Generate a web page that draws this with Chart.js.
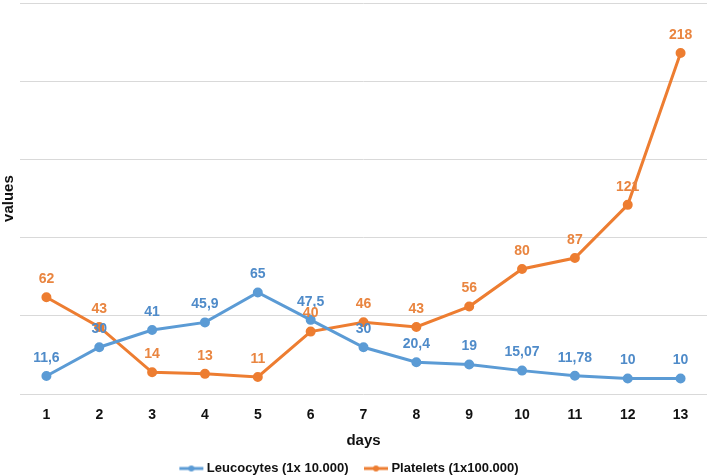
<!DOCTYPE html>
<html>
<head>
<meta charset="utf-8">
<script src="https://cdn.jsdelivr.net/npm/chart.js@4/dist/chart.umd.min.js"></script>
<style>
  html, body { margin: 0; padding: 0; background: #fff; }
  #wrap { width: 709px; height: 476px; }
</style>
</head>
<body>
<div id="wrap"><canvas id="js-chart"></canvas></div>
<script>
  const days = ['1', '2', '3', '4', '5', '6', '7', '8', '9', '10', '11', '12', '13'];
  const leucocytes = [11.6, 30, 41, 45.9, 65, 47.5, 30, 20.4, 19, 15.07, 11.78, 10, 10];
  const platelets = [62, 43, 14, 13, 11, 40, 46, 43, 56, 80, 87, 121, 218];
  const seriesNames = ['Leucocytes (1x 10.000)', 'Platelets (1x100.000)'];

  const BLUE = '#5b9bd5';
  const ORANGE = '#ed7d31';
  const FONT = '"Liberation Sans", Arial, sans-serif';

  // legend marker: short line with a dot in the middle, shifted left inside the image
  function legendMark(color) {
    const c = document.createElement('canvas');
    c.width = 34;
    c.height = 8;
    const ctx = c.getContext('2d');
    ctx.strokeStyle = color;
    ctx.lineWidth = 3;
    ctx.beginPath();
    ctx.moveTo(2, 4);
    ctx.lineTo(26, 4);
    ctx.stroke();
    ctx.fillStyle = color;
    ctx.beginPath();
    ctx.arc(14, 4, 3, 0, Math.PI * 2);
    ctx.fill();
    return c;
  }

  const valueLabels = {
    id: 'valueLabels',
    afterDatasetsDraw(chart) {
      const ctx = chart.ctx;
      ctx.save();
      ctx.font = 'bold 14px ' + FONT;
      ctx.textAlign = 'center';
      ctx.textBaseline = 'middle';
      chart.data.datasets.forEach((ds, i) => {
        const meta = chart.getDatasetMeta(i);
        ctx.fillStyle = ds.labelColor;
        meta.data.forEach((pt, j) => {
          const txt = String(ds.data[j]).replace('.', ',');
          ctx.fillText(txt, pt.x, pt.y - 18);
        });
      });
      ctx.restore();
    },
  };

  function createChart(el) {
    Chart.defaults.font.family = FONT;
    return new Chart(el, {
      type: 'line',
      data: {
        labels: days,
        datasets: [
          {
            label: seriesNames[0],
            data: leucocytes,
            borderColor: BLUE,
            backgroundColor: BLUE,
            labelColor: '#4f8bc9',
            borderWidth: 3,
            pointRadius: 3.5,
            legendMark: legendMark(BLUE),
          },
          {
            label: seriesNames[1],
            data: platelets,
            borderColor: ORANGE,
            backgroundColor: ORANGE,
            labelColor: '#e98540',
            borderWidth: 3,
            pointRadius: 3.5,
            legendMark: legendMark(ORANGE),
          },
        ],
      },
      options: {
        responsive: true,
        maintainAspectRatio: false,
        animation: false,
        layout: { autoPadding: false, padding: { left: 0, right: 2, top: 3, bottom: -9 } },
        scales: {
          x: {
            offset: true,
            grid: { display: false },
            border: { display: false },
            ticks: { color: '#111', font: { size: 14, weight: 'bold' }, padding: 5 },
            title: {
              display: true,
              text: 'days',
              color: '#111',
              font: { size: 15, weight: 'bold' },
              padding: { top: 3, bottom: 2 },
            },
          },
          y: {
            min: 0,
            max: 250,
            ticks: { display: false, stepSize: 50 },
            grid: { color: '#d9d9d9', lineWidth: 1, drawTicks: false },
            border: { display: false },
            title: {
              display: true,
              text: 'values',
              color: '#111',
              font: { size: 15, weight: 'bold' },
              padding: { top: 0, bottom: 2 },
            },
          },
        },
        plugins: {
          tooltip: { enabled: false },
          legend: {
            position: 'bottom',
            labels: {
              color: '#111',
              font: { size: 13, weight: 'bold' },
              usePointStyle: true,
              pointStyleWidth: 12,
              padding: 10,
              generateLabels(chart) {
                return chart.data.datasets.map((ds, i) => ({
                  // trailing spaces widen the gap before the next entry
                  text: i === 0 ? ds.label + '    ' : ds.label,
                  fillStyle: ds.borderColor,
                  strokeStyle: ds.borderColor,
                  pointStyle: ds.legendMark,
                  fontColor: '#111',
                  hidden: false,
                  datasetIndex: i,
                  lineWidth: 0,
                }));
              },
            },
          },
        },
      },
      plugins: [valueLabels],
    });
  }

  createChart(document.getElementById('js-chart'));
</script>
</body>
</html>
